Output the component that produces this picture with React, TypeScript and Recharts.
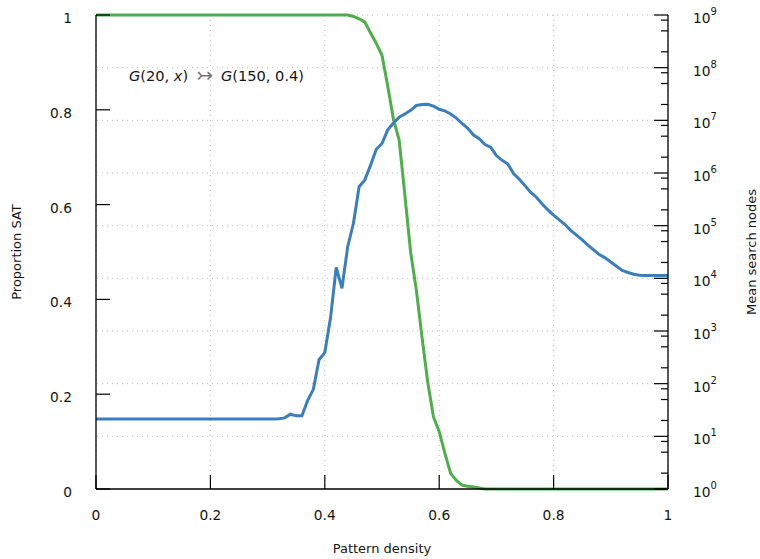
import React from 'react';
import { ComposedChart, Line, XAxis, YAxis, CartesianGrid, ReferenceLine } from 'recharts';

const densities = [
  0, 0.05, 0.1, 0.15, 0.2, 0.25, 0.3, 0.31, 0.32, 0.33, 0.34, 0.35, 0.36, 0.37, 0.38, 0.39,
  0.4, 0.41, 0.42, 0.43, 0.44, 0.45, 0.46, 0.47, 0.48, 0.49, 0.5, 0.51, 0.52, 0.53, 0.54,
  0.55, 0.56, 0.57, 0.58, 0.59, 0.6, 0.61, 0.62, 0.63, 0.64, 0.65, 0.66, 0.67, 0.68, 0.69,
  0.7, 0.71, 0.72, 0.73, 0.74, 0.75, 0.76, 0.77, 0.78, 0.79, 0.8, 0.81, 0.82, 0.83, 0.84,
  0.85, 0.86, 0.87, 0.88, 0.89, 0.9, 0.91, 0.92, 0.93, 0.94, 0.95, 0.96, 0.97, 0.98, 0.99, 1,
];

const meanSearchNodes = [
  21.3, 21.3, 21.3, 21.3, 21.3, 21.3, 21.3, 21.3, 21.6, 22.4, 26.3, 24.5, 24.5, 48, 78, 288,
  389, 1780, 16200, 6460, 39800, 110000, 550000, 741000, 1410000, 2820000, 3630000, 6610000, 8910000, 11500000, 13200000,
  15500000, 19100000, 19950000, 20200000, 18600000, 16200000, 15100000, 13200000, 11000000, 8710000, 7080000, 5250000, 4470000, 3470000, 3090000,
  2140000, 1740000, 1480000, 977000, 759000, 575000, 427000, 347000, 257000, 200000, 158000, 129000, 105000, 81300, 66100,
  53700, 42700, 34700, 28200, 24500, 20400, 17000, 14100, 12900, 12000, 11500, 11350, 11350, 11350, 11350, 11350,
];

const proportionSat = [
  1, 1, 1, 1, 1, 1, 1, 1, 1, 1, 1, 1, 1, 1, 1, 1,
  1, 1, 1, 1, 1, 0.997, 0.992, 0.985, 0.962, 0.94, 0.915, 0.85, 0.78, 0.736, 0.62,
  0.5, 0.42, 0.32, 0.225, 0.152, 0.121, 0.075, 0.033, 0.018, 0.008, 0.006, 0.004, 0.002, 0, 0,
  0, 0, 0, 0, 0, 0, 0, 0, 0, 0, 0, 0, 0, 0, 0,
  0, 0, 0, 0, 0, 0, 0, 0, 0, 0, 0, 0, 0, 0, 0, 0,
];

const xTicks = [0, 0.2, 0.4, 0.6, 0.8, 1];
const leftTicks = [0, 0.2, 0.4, 0.6, 0.8, 1];
const decades = [1, 1e1, 1e2, 1e3, 1e4, 1e5, 1e6, 1e7, 1e8, 1e9];
const minorMultipliers = [2, 5, 8];
const gridDecades = [1e1, 1e2, 1e3, 1e4, 1e5, 1e6, 1e7, 1e8, 1e9];

const rightTicks: number[] = [];
decades.forEach((d, i) => {
  rightTicks.push(d);
  if (i < decades.length - 1) minorMultipliers.forEach((m) => rightTicks.push(d * m));
});

const rows = densities.map((d, i) => ({ density: d, nodes: meanSearchNodes[i], sat: proportionSat[i] }));

const FONT = '"DejaVu Sans", sans-serif';
const BLUE = '#3a7ebd';
const GREEN = '#4daf4a';
const GRID = '#bdbdbd';
const TEXT = '#161616';

const XTick = (props: any) => {
  const { x, y, payload } = props;
  return (
    <g>
      <line x1={x} x2={x} y1={y} y2={y - 14} stroke="#000" strokeWidth={1.2} />
      <text x={x} y={y + 31} textAnchor="middle" fontFamily={FONT} fontSize={13.8} fill={TEXT}>
        {String(payload.value)}
      </text>
    </g>
  );
};

const LeftTick = (props: any) => {
  const { x, y, payload } = props;
  return (
    <g>
      <line x1={x} x2={x + 14} y1={y} y2={y} stroke="#000" strokeWidth={1.2} />
      <text x={x - 24} y={y + 8} textAnchor="end" fontFamily={FONT} fontSize={13.8} fill={TEXT}>
        {String(payload.value)}
      </text>
    </g>
  );
};

const RightTick = (props: any) => {
  const { x, y, payload } = props;
  const lg = Math.log10(payload.value);
  const major = Math.abs(lg - Math.round(lg)) < 1e-6;
  return (
    <g>
      <line x1={x - (major ? 14 : 7)} x2={x} y1={y} y2={y} stroke="#000" strokeWidth={1.2} />
      {major ? (
        <text x={x + 25} y={y + 8} fontFamily={FONT} fontSize={13.8} fill={TEXT}>
          10
          <tspan dy={-8} fontSize={10}>{String(Math.round(lg))}</tspan>
        </text>
      ) : null}
    </g>
  );
};

const XLabel = () => (
  <g>
    <text x={382} y={553} textAnchor="middle" fontFamily={FONT} fontSize={13} fill={TEXT}>
      Pattern density
    </text>
    <text x={129} y={81} fontFamily={FONT} fontSize={14.6} fill={TEXT}>
      <tspan fontStyle="italic">G</tspan>
      <tspan>(20, </tspan>
      <tspan fontStyle="italic">x</tspan>
      <tspan>)</tspan>
      <tspan dx={8} fill="#777" fontSize={20} dy={1}>↣</tspan>
      <tspan dx={8} fontStyle="italic" dy={-1}>G</tspan>
      <tspan>(150, 0.4)</tspan>
    </text>
  </g>
);

const LeftLabel = () => (
  <text
    x={21}
    y={252}
    transform="rotate(-90 21 252)"
    textAnchor="middle"
    fontFamily={FONT}
    fontSize={13}
    fill={TEXT}
  >
    Proportion SAT
  </text>
);

const RightLabel = () => (
  <text
    x={756}
    y={252}
    transform="rotate(-90 756 252)"
    textAnchor="middle"
    fontFamily={FONT}
    fontSize={13}
    fill={TEXT}
  >
    Mean search nodes
  </text>
);

export default function App() {
  return (
    <div style={{ position: 'absolute', left: 0, top: 0, width: 760, height: 559, background: '#fff' }}>
      <ComposedChart width={760} height={559} data={rows} margin={{ top: 15, right: 0, bottom: 0, left: 0 }}>
        <CartesianGrid horizontal={false} vertical stroke={GRID} strokeDasharray="1 4" />
        {gridDecades.map((g) => (
          <ReferenceLine key={g} yAxisId="right" y={g} stroke={GRID} strokeDasharray="1 4" ifOverflow="visible" />
        ))}
        <XAxis
          dataKey="density"
          type="number"
          domain={[0, 1]}
          ticks={xTicks}
          interval={0}
          height={70}
          tickSize={0}
          tickMargin={0}
          tick={<XTick />}
          axisLine={{ stroke: '#000', strokeWidth: 1.3 }}
          label={<XLabel />}
        />
        <YAxis
          yAxisId="left"
          type="number"
          domain={[0, 1]}
          ticks={leftTicks}
          interval={0}
          width={96}
          tickSize={0}
          tickMargin={0}
          tick={<LeftTick />}
          axisLine={{ stroke: '#000', strokeWidth: 1.3 }}
          label={<LeftLabel />}
        />
        <YAxis
          yAxisId="right"
          orientation="right"
          type="number"
          scale="log"
          domain={[1, 1e9]}
          allowDataOverflow
          ticks={rightTicks}
          interval={0}
          width={92}
          tickSize={0}
          tickMargin={0}
          tick={<RightTick />}
          axisLine={{ stroke: '#000', strokeWidth: 1.3 }}
          label={<RightLabel />}
        />
        <Line
          yAxisId="left"
          type="linear"
          dataKey="sat"
          stroke={GREEN}
          strokeWidth={3}
          dot={false}
          isAnimationActive={false}
        />
        <Line
          yAxisId="right"
          type="linear"
          dataKey="nodes"
          stroke={BLUE}
          strokeWidth={3}
          dot={false}
          isAnimationActive={false}
        />
      </ComposedChart>
    </div>
  );
}
